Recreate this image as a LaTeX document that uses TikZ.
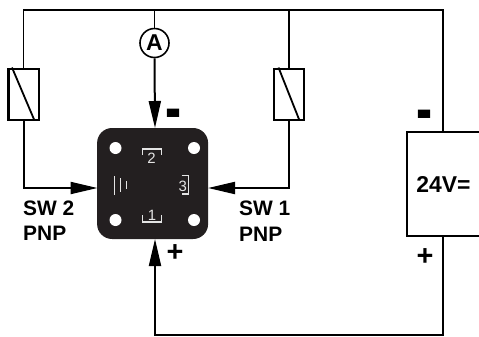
\documentclass[tikz,border=0pt]{standalone}
\usepackage{fontspec}
\usepackage{graphicx}
\setmainfont{Liberation Sans}
\usetikzlibrary{arrows.meta}
\definecolor{bodyblack}{HTML}{231F20}
\definecolor{markgrey}{HTML}{E4E4E4}
\begin{document}
\begin{tikzpicture}[x=1bp,y=-1bp,>={Triangle[length=27bp,width=12bp]},line join=miter,
    wire/.style={line width=1.6bp},
    feed/.style={line width=2bp},
    coil/.style={draw,line width=2bp,fill=white,minimum width=30bp,minimum height=51bp,inner sep=0pt},
    label/.style={inner sep=0pt,font=\fontsize{21}{21}\bfseries\selectfont},
    signs/.style={inner sep=0pt,font=\fontsize{44}{44}\bfseries\selectfont},
    hole/.style={circle,fill=white,minimum size=12bp,inner sep=0pt},
    digit/.style={inner sep=0pt,text=markgrey,font=\fontsize{15}{15}\selectfont},
    facemark/.style={line width=1.1bp,draw=markgrey}]
    \useasboundingbox (0,0) rectangle (479,336);
    \node[coil] (coilL) at (23.5,94) {};
    \node[coil] (coilR) at (289,94) {};
    \node[draw,circle,line width=1.6bp,fill=white,minimum size=29bp,inner sep=0pt,
        font=\fontsize{23}{23}\bfseries\selectfont] (amp) at (154.5,43) {A};
    \node[fill=bodyblack,rounded corners=15bp,minimum width=111bp,minimum height=111bp,inner sep=0pt] (sensor) at (152.6,183.5) {};
    \node[draw,line width=2bp,minimum width=74bp,minimum height=104bp,inner sep=0pt,
        font=\fontsize{23}{23}\bfseries\selectfont] (supply) at (444,184) {\hspace*{-1bp}24V=};
    \coordinate (inT) at (155,128);
    \coordinate (inB) at (155,239);
    \coordinate (inL) at (97.5,188);
    \coordinate (inR) at (208,188);
    \coordinate (topA) at (154.5,10);
    \coordinate (topR) at (289,10);
    \coordinate (botS) at (443,335);
    % wires along the top
    \draw[wire] (coilL.north) |- (topA) -- (topR) -| (443,132);
    \draw[wire] (topA) -- (amp.north);
    \draw[wire] (topR) -- (coilR.north);
    % feeds into the sensor
    \draw[feed,->] (amp.south) -- (inT);
    \draw[feed,->] (coilL.south) |- (inL);
    \draw[feed,->] (coilR.south) |- (inR);
    \draw[feed,->] (443,236) -- (botS) -| (inB);
    % coil diagonals
    \draw[line width=1.8bp] ([xshift=4.5bp]coilL.north west) -- ([xshift=-5bp]coilL.south east);
    \draw[line width=1.8bp] ([xshift=5.5bp]coilR.north west) -- ([xshift=-5.5bp]coilR.south east);
    % sensor face
    \node[hole] (h1) at (115.5,148) {};
    \node[hole] (h2) at (194,148) {};
    \node[hole] (h3) at (115.5,220) {};
    \node[hole] (h4) at (194,220) {};
    \node[digit] (d2) at (151.6,158) {2};
    \node[digit] (d3) at (182.7,186) {3};
    \node[digit] (d1) at (152,215) {1};
    \draw[facemark] (142.5,155) -- (142.5,149) -- (161.5,149) -- (161.5,155);
    \draw[facemark] (142.5,215) -- (142.5,222) -- (161.5,222) -- (161.5,215);
    \draw[facemark] (181.5,175.5) -- (188.5,175.5) -- (188.5,194) -- (181.5,194);
    \draw[facemark] (114.7,176) -- (114.7,194.5);
    \draw[facemark] (120.7,178) -- (120.7,192);
    \draw[facemark] (126.5,181) -- (126.5,189);
    % labels
    \node[label,anchor=west] (sw2) at (23,208) {SW 2};
    \node[label,anchor=west] (pnp2) at (23,233) {PNP};
    \node[label,anchor=west] (sw1) at (239,208) {SW 1};
    \node[label,anchor=west] (pnp1) at (239,234) {PNP};
    \node[signs] (minusA) at (173.5,120.5) {\scalebox{1.1}[1.6]{-}};
    \node[signs] (minusB) at (424.5,121.5) {\scalebox{1.1}[1.6]{-}};
    \node[signs,font=\fontsize{29}{29}\bfseries\selectfont] (plusA) at (175,253) {+};
    \node[signs,font=\fontsize{29}{29}\bfseries\selectfont] (plusB) at (425,257) {+};
\end{tikzpicture}
\end{document}
